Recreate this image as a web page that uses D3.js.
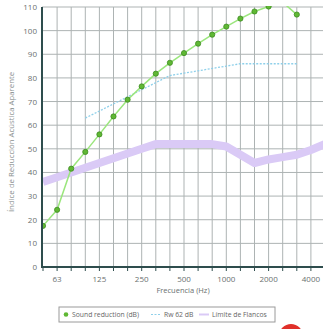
<!DOCTYPE html>
<html>
<head>
<meta charset="utf-8">
<script src="https://cdn.jsdelivr.net/npm/d3@7"></script>
<style>
body { margin: 0; background: #fff; }
text { font-family: "Open Sans", "Noto Sans", sans-serif; }
</style>
</head>
<body>
<div id="chart"></div>
<script>
var w = 323, h = 329;
var plotLeft = 42, plotTop = 7, plotBottom = 267;

var bands = ["50","63","80","100","125","160","200","250","315","400","500","630","800","1000","1250","1600","2000","2500","3150","4000","5000"];
var octaveLabels = ["63","125","250","500","1000","2000","4000"];
var yTicks = [0,10,20,30,40,50,60,70,80,90,100,110];

var soundBands = ["50","63","80","100","125","160","200","250","315","400","500","630","800","1000","1250","1600","2000","2500","3150"];
var soundValues = [17.4,24.2,41.6,48.7,56.1,63.7,70.8,76.4,81.8,86.4,90.5,94.5,98.3,101.7,105.1,108.1,110.2,112,106.8];

var rwBands = ["100","125","160","200","250","315","400","500","630","800","1000","1250","1600","2000","2500","3150"];
var rwValues = [63,66,69,72,75,78,81,82,83,84,85,86,86,86,86,86];

var flankBands = bands;
var flankValues = [36,38,40,42,44,46,48,50,52,52,52,52,52,51,47.5,44,45.5,46.5,47.5,49.5,52];

var legendItems = ["Sound reduction (dB)", "Rw 62 dB", "L\u00edmite de Flancos"];

var svg = d3.select("#chart").append("svg").attr("width", w).attr("height", h);

var x = d3.scalePoint().domain(bands).range([43, 325]);
var y = d3.scaleLinear().domain([0, 110]).range([plotBottom, plotTop]);

// grid
svg.append("g").selectAll("line").data(yTicks).enter().append("line")
  .attr("x1", plotLeft).attr("x2", w).attr("y1", function (d) { return y(d); }).attr("y2", function (d) { return y(d); })
  .style("stroke", "#adb3b3").style("stroke-width", 1);
svg.append("g").selectAll("line").data(bands.slice(1)).enter().append("line")
  .attr("x1", function (d) { return x(d); }).attr("x2", function (d) { return x(d); })
  .attr("y1", plotTop).attr("y2", plotBottom)
  .style("stroke", "#adb3b3").style("stroke-width", 1);

svg.append("defs").append("clipPath").attr("id", "plot")
  .append("rect").attr("x", plotLeft).attr("y", plotTop - 1).attr("width", w - plotLeft).attr("height", plotBottom - plotTop + 1);

var plot = svg.append("g").attr("clip-path", "url(#plot)");

var line = d3.line()
  .x(function (d) { return x(d[0]); })
  .y(function (d) { return y(d[1]); });

plot.append("path").datum(d3.zip(flankBands, flankValues)).attr("d", line)
  .style("fill", "none").style("stroke", "#dacaf6").style("stroke-width", 8).style("stroke-linejoin", "round");

plot.append("path").datum(d3.zip(rwBands, rwValues)).attr("d", line)
  .style("fill", "none").style("stroke", "#8fd0ea").style("stroke-width", 1.3).style("stroke-dasharray", "2,1.5");

var sound = d3.zip(soundBands, soundValues);
plot.append("path").datum(sound).attr("d", line)
  .style("fill", "none").style("stroke", "#9be67d").style("stroke-width", 1.5);
plot.selectAll("circle.pt").data(sound).enter().append("circle").attr("class", "pt")
  .attr("cx", function (d) { return x(d[0]); }).attr("cy", function (d) { return y(d[1]); }).attr("r", 2.6)
  .style("fill", "#5fb833").style("stroke", "#3d8a22").style("stroke-width", 0.8);

// axes
svg.append("line").attr("x1", plotLeft).attr("x2", plotLeft).attr("y1", plotTop).attr("y2", plotBottom + 1)
  .style("stroke", "#2e4d4d").style("stroke-width", 2);
svg.append("line").attr("x1", plotLeft).attr("x2", w).attr("y1", plotBottom).attr("y2", plotBottom)
  .style("stroke", "#2e4d4d").style("stroke-width", 2);
svg.append("g").selectAll("line").data(bands).enter().append("line")
  .attr("x1", function (d) { return x(d); }).attr("x2", function (d) { return x(d); })
  .attr("y1", plotBottom).attr("y2", plotBottom + 4)
  .style("stroke", "#2e4d4d").style("stroke-width", 1);

svg.append("g").selectAll("text").data(yTicks).enter().append("text")
  .attr("x", 37).attr("y", function (d) { return y(d) + 3; })
  .attr("text-anchor", "end").style("font-size", "8px").style("fill", "#6a7070")
  .text(function (d) { return d; });

svg.append("g").selectAll("text").data(octaveLabels).enter().append("text")
  .attr("x", function (d) { return x(d); }).attr("y", 282)
  .attr("text-anchor", "middle").style("font-size", "8px").style("fill", "#6a7070")
  .text(function (d) { return d; });

svg.append("text").attr("x", 183).attr("y", 293).attr("text-anchor", "middle")
  .style("font-size", "7.5px").style("fill", "#6a7070").text("Frecuencia (Hz)");

svg.append("text").attr("transform", "translate(14,142) rotate(-90)").attr("text-anchor", "middle")
  .style("font-size", "7.8px").style("fill", "#8a9090").text("\u00cdndice de Reducci\u00f3n Ac\u00fastica Aparente");

// legend
var lg = svg.append("g");
lg.append("rect").attr("x", 59).attr("y", 307).attr("width", 216).attr("height", 15)
  .style("fill", "#fff").style("stroke", "#9a9a9a").style("stroke-width", 1);
lg.append("circle").attr("cx", 66).attr("cy", 314.5).attr("r", 2.3).style("fill", "#5fb833");
lg.append("text").attr("x", 72).attr("y", 317).style("font-size", "6.8px").style("fill", "#666").text(legendItems[0]);
lg.append("line").attr("x1", 151).attr("x2", 160).attr("y1", 314.5).attr("y2", 314.5)
  .style("stroke", "#8fd0ea").style("stroke-width", 1).style("stroke-dasharray", "2,1.5");
lg.append("text").attr("x", 164).attr("y", 317).style("font-size", "6.8px").style("fill", "#666").text(legendItems[1]);
lg.append("line").attr("x1", 199).attr("x2", 209).attr("y1", 314.5).attr("y2", 314.5)
  .style("stroke", "#dacaf6").style("stroke-width", 2);
lg.append("text").attr("x", 212).attr("y", 317).style("font-size", "6.8px").style("fill", "#666").text(legendItems[2]);

// red logo edge at bottom right
svg.append("circle").attr("cx", 291).attr("cy", 336).attr("r", 12).style("fill", "#e0302a");
</script>
</body>
</html>
